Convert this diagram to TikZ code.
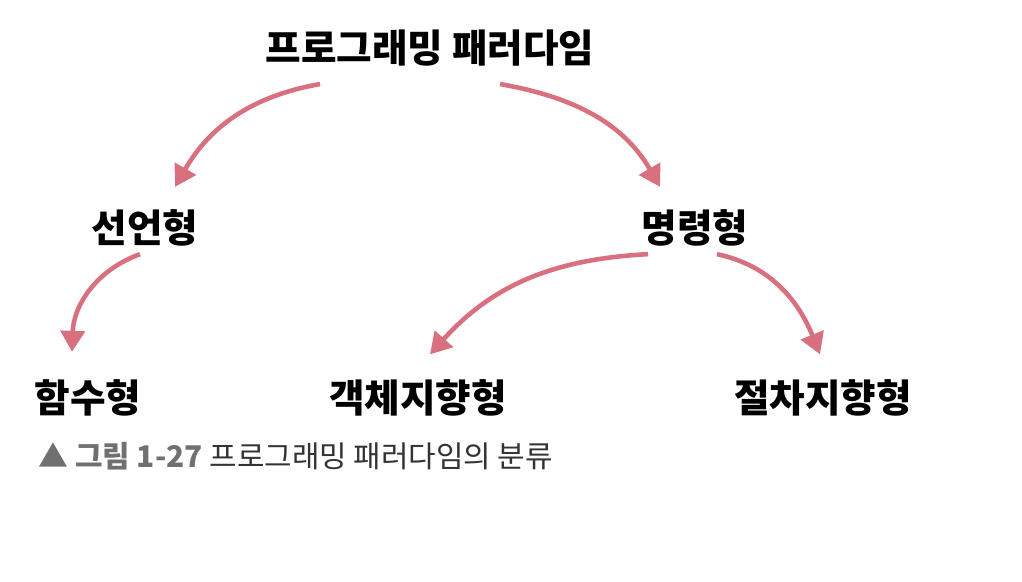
\documentclass[tikz,border=0pt]{standalone}
\usepackage{fontspec}
\setmainfont{Noto Sans CJK KR}
\usetikzlibrary{arrows.meta,positioning}
\definecolor{arrowpink}{HTML}{D9707F}
\definecolor{capgray}{HTML}{707070}
\definecolor{captext}{HTML}{333333}
\tikzset{
  >=Latex,
  paradigm/.style={inner sep=0pt, font=\fontsize{22}{26}\selectfont\bfseries},
  caption/.style={inner sep=0pt, anchor=west, text=captext,
    font=\fontsize{17}{20}\selectfont},
  arr/.style={-{Triangle[length=4.2mm, width=4.8mm]}, draw=arrowpink,
    line width=2.6pt}
}

\begin{document}
\begin{tikzpicture}[x=1cm,y=1cm]
\useasboundingbox (0,0) rectangle (20.44,11.64);

\node[paradigm] (top) at (8.6,10.68) {프로그래밍 패러다임};

% second level
\node[paradigm] (decl) at (2.9,7.08) {선언형};
\node[paradigm] (imp) at (13.9,7.08) {명령형};

% third level
\node[paradigm] (func) at (1.76,3.68) {함수형};
\node[paradigm] (obj) at (8.36,3.68) {객체지향형};
\node[paradigm] (proc) at (16.46,3.68) {절차지향형};

\draw[arr] ([xshift=-2.2cm,yshift=-0.35cm]top.south) to[out=190, in=60]
  ([xshift=0.6cm,yshift=0.45cm]decl.north);
\draw[arr] ([xshift=1.4cm,yshift=-0.35cm]top.south) to[out=-10, in=120]
  ([xshift=-0.7cm,yshift=0.45cm]imp.north);
\draw[arr] ([xshift=-0.1cm,yshift=-0.15cm]decl.south) to[out=200, in=88]
  ([xshift=-0.32cm,yshift=0.55cm]func.north);
\draw[arr] ([xshift=-0.94cm,yshift=-0.15cm]imp.south) to[out=183, in=48]
  ([xshift=0.24cm,yshift=0.5cm]obj.north);
\draw[arr] ([xshift=0.44cm,yshift=-0.15cm]imp.south) to[out=-12, in=112]
  ([xshift=-0.06cm,yshift=0.5cm]proc.north);

\node[caption] (cap) at (0.76,2.52)
  {{\color{capgray}\bfseries ▲ 그림 1-27} 프로그래밍 패러다임의 분류};

\end{tikzpicture}
\end{document}
